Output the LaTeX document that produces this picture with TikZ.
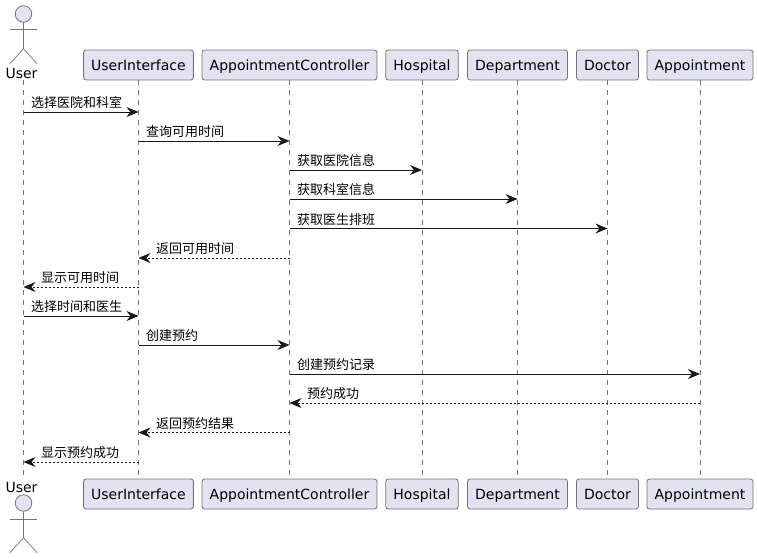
\documentclass[tikz,border=0pt]{standalone}
\usepackage{fontspec}
\setmainfont{DejaVu Sans}
\newfontfamily\cjk{Noto Sans CJK SC}
\usetikzlibrary{arrows.meta,positioning}
\definecolor{partfill}{HTML}{E2E2F0}
\definecolor{partline}{HTML}{181818}
\tikzset{
  part/.style={draw=partline!60, fill=partfill, line width=0.8pt, rounded corners=2.5pt,
    text height=13pt, text depth=2pt, minimum height=30pt, inner xsep=7.6pt, inner ysep=0pt,
    font=\fontsize{14}{16}\selectfont},
  actorname/.style={inner sep=0pt, font=\fontsize{14}{16}\selectfont},
  actorhead/.style={circle, draw=partline!60, fill=partfill, line width=0.8pt,
    minimum size=16.5pt, inner sep=0pt},
  stick/.style={draw=partline!60, line width=0.7pt},
  lifeline/.style={draw=partline!60, line width=0.6pt, dash pattern=on 5pt off 5pt},
  call/.style={draw=partline, line width=0.9pt, -{Stealth[length=12pt,width=10pt,inset=4pt]}},
  reply/.style={call, dash pattern=on 2pt off 2pt},
  msg/.style={inner sep=0pt, text height=10pt, text depth=2pt, font=\fontsize{13}{15}\selectfont\cjk}
}
\begin{document}
\begin{tikzpicture}[x=1pt, y=-1pt]
  \useasboundingbox (0,0) rectangle (757,559);
  % Top row
  \node (userHead) [actorhead] at (23.5,14) {};
  \node (userName) [actorname] at (21.5,73) {User};
  \node (ui) [part] at (138.5,65) {UserInterface};
  \node (ctrl) [part] at (289.5,65) {AppointmentController};
  \node (hospital) [part] at (422,65) {Hospital};
  \node (department) [part] at (517.5,65) {Department};
  \node (doctor) [part] at (607.5,65) {Doctor};
  \node (appointment) [part] at (700,65) {Appointment};
  % Bottom row
  \node (userNameB) [actorname] at (21.5,487) {User};
  \node (userHeadB) [actorhead] at (23.5,503) {};
  \node (uiB) [part] at (138.5,494) {UserInterface};
  \node (ctrlB) [part] at (289.5,494) {AppointmentController};
  \node (hospitalB) [part] at (422,494) {Hospital};
  \node (departmentB) [part] at (517.5,494) {Department};
  \node (doctorB) [part] at (607.5,494) {Doctor};
  \node (appointmentB) [part] at (700,494) {Appointment};
  % Stick figures
  \draw[stick] (userHead.south) -- ++(0,26) -- ++(-13.5,15);
  \draw[stick] (userHead.south) ++(0,26) -- ++(13.5,15);
  \draw[stick] (10,29) -- (37,29);
  \draw[stick] (userHeadB.south) -- ++(0,26) -- ++(-13.5,15);
  \draw[stick] (userHeadB.south) ++(0,26) -- ++(13.5,15);
  \draw[stick] (10,519) -- (37,519);
  % Lifelines
  \coordinate (userTop) at (23.5,80);
  \coordinate (userEnd) at (23.5,479);
  \draw[lifeline] (userTop) -- (userEnd);
  \draw[lifeline] (ui) -- (uiB);
  \draw[lifeline] (ctrl) -- (ctrlB);
  \draw[lifeline] (hospital) -- (hospitalB);
  \draw[lifeline] (department) -- (departmentB);
  \draw[lifeline] (doctor) -- (doctorB);
  \draw[lifeline] (appointment) -- (appointmentB);
  % Messages
  \coordinate (a1) at (userTop |- 0,112);
  \coordinate (b1) at (ui |- 0,112);
  \draw[call] (a1) -- (b1);
  \node (t1) [msg, above right = 2pt and 7.5pt of a1] {选择医院和科室};
  \coordinate (a2) at (ui |- 0,141);
  \coordinate (b2) at (ctrl |- 0,141);
  \draw[call] (a2) -- (b2);
  \node (t2) [msg, above right = 2pt and 7.5pt of a2] {查询可用时间};
  \coordinate (a3) at (ctrl |- 0,170);
  \coordinate (b3) at (hospital |- 0,170);
  \draw[call] (a3) -- (b3);
  \node (t3) [msg, above right = 2pt and 7.5pt of a3] {获取医院信息};
  \coordinate (a4) at (ctrl |- 0,199);
  \coordinate (b4) at (department |- 0,199);
  \draw[call] (a4) -- (b4);
  \node (t4) [msg, above right = 2pt and 7.5pt of a4] {获取科室信息};
  \coordinate (a5) at (ctrl |- 0,228.5);
  \coordinate (b5) at (doctor |- 0,228.5);
  \draw[call] (a5) -- (b5);
  \node (t5) [msg, above right = 2pt and 7.5pt of a5] {获取医生排班};
  \coordinate (a6) at (ctrl |- 0,258);
  \coordinate (b6) at (ui |- 0,258);
  \draw[reply] (a6) -- (b6);
  \node (t6) [msg, above right = 2pt and 17.5pt of b6] {返回可用时间};
  \coordinate (a7) at (ui |- 0,287);
  \coordinate (b7) at (userTop |- 0,287);
  \draw[reply] (a7) -- (b7);
  \node (t7) [msg, above right = 2pt and 17.5pt of b7] {显示可用时间};
  \coordinate (a8) at (userTop |- 0,316);
  \coordinate (b8) at (ui |- 0,316);
  \draw[call] (a8) -- (b8);
  \node (t8) [msg, above right = 2pt and 7.5pt of a8] {选择时间和医生};
  \coordinate (a9) at (ui |- 0,345);
  \coordinate (b9) at (ctrl |- 0,345);
  \draw[call] (a9) -- (b9);
  \node (t9) [msg, above right = 2pt and 7.5pt of a9] {创建预约};
  \coordinate (a10) at (ctrl |- 0,374);
  \coordinate (b10) at (appointment |- 0,374);
  \draw[call] (a10) -- (b10);
  \node (t10) [msg, above right = 2pt and 7.5pt of a10] {创建预约记录};
  \coordinate (a11) at (appointment |- 0,403);
  \coordinate (b11) at (ctrl |- 0,403);
  \draw[reply] (a11) -- (b11);
  \node (t11) [msg, above right = 2pt and 17.5pt of b11] {预约成功};
  \coordinate (a12) at (ctrl |- 0,432.5);
  \coordinate (b12) at (ui |- 0,432.5);
  \draw[reply] (a12) -- (b12);
  \node (t12) [msg, above right = 2pt and 17.5pt of b12] {返回预约结果};
  \coordinate (a13) at (ui |- 0,462);
  \coordinate (b13) at (userTop |- 0,462);
  \draw[reply] (a13) -- (b13);
  \node (t13) [msg, above right = 2pt and 17.5pt of b13] {显示预约成功};
\end{tikzpicture}
\end{document}
